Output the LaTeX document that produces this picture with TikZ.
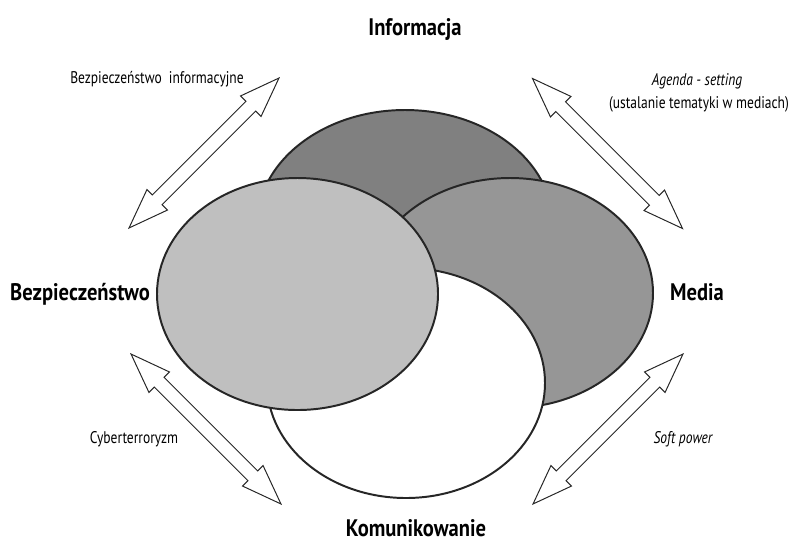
\documentclass[tikz,border=0pt]{standalone}
\usepackage{fontspec}
\setmainfont{PT Sans}[FakeStretch=0.8]
\newfontfamily\headfont{PT Sans}[FakeStretch=0.86]
\usetikzlibrary{shapes.arrows}
\tikzset{
  blob/.style={draw=black!85, line width=1.4pt},
  title/.style={font=\headfont\bfseries\fontsize{17}{20}\selectfont, anchor=base},
  small/.style={font=\fontsize{12}{14}\selectfont, anchor=base},
  twoway/.style={double arrow, draw=black!85, fill=white, line width=0.7pt,
    minimum height=5.3cm, minimum width=0.7cm, inner xsep=0pt, inner ysep=0.16cm,
    double arrow head extend=0.19cm, double arrow tip angle=40},
}
\begin{document}
\begin{tikzpicture}[x=0.025cm, y=-0.025cm]
\useasboundingbox (0,0) rectangle (800,542);

\draw[blob, fill=black!50] (405,225) ellipse [x radius=148, y radius=115];
\draw[blob, fill=black!41] (510,293) ellipse [x radius=143, y radius=115];
\draw[blob, fill=white] (406,383) ellipse [x radius=139, y radius=115];
\draw[blob, fill=black!25] (297.5,294) ellipse [x radius=140.5, y radius=116];

\node[title] (inf) at (415,35) {Informacja};
\node[title] (bez) at (80,300) {Bezpieczeństwo};
\node[title] (med) at (697,300) {Media};
\node[title] (kom) at (416,536) {Komunikowanie};

\node[twoway, rotate=45] (infbez) at (204,153) {};
\node[twoway, rotate=-45] (infmed) at (607.5,153.5) {};
\node[twoway, rotate=-45] (bezkom) at (206,429) {};
\node[twoway, rotate=45] (medkom) at (608,429) {};

\node[small] (bezinf) at (157,83) {Bezpieczeństwo\ \ informacyjne};
\node[small] (agenda) at (697,85) {\itshape Agenda - setting};
\node[small] (agendasub) at (699,108) {(ustalanie tematyki w mediach)};
\node[small] (cyber) at (134,443) {Cyberterroryzm};
\node[small] (soft) at (683,443) {\itshape Soft power};

\end{tikzpicture}
\end{document}
